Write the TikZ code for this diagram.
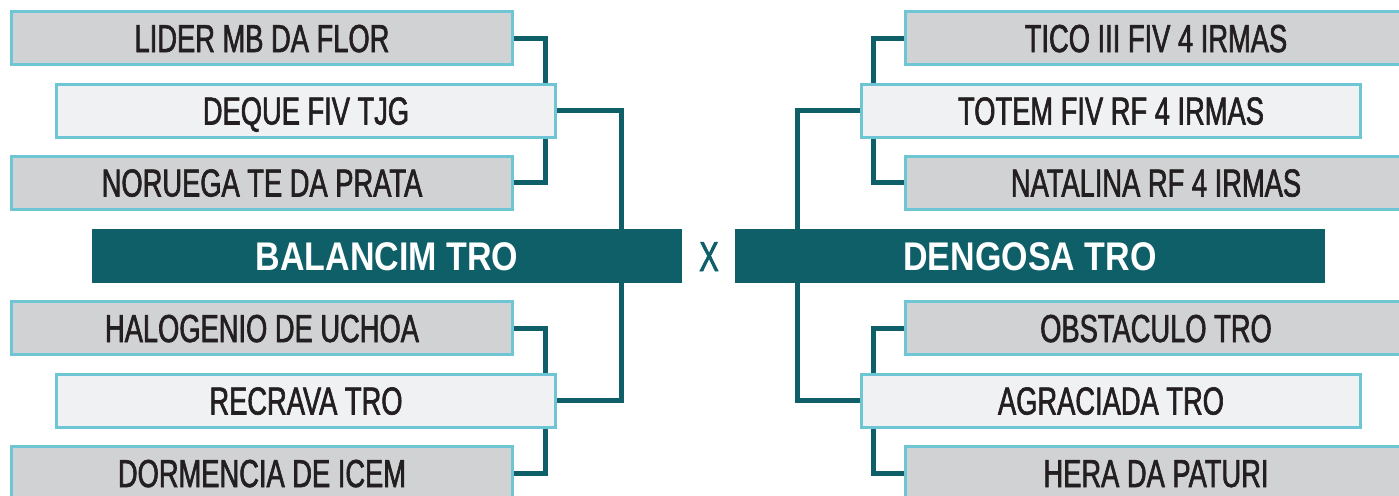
\documentclass[tikz,border=0pt]{standalone}
\usepackage{fontspec}
\usetikzlibrary{backgrounds}
\newfontfamily\boxfam{Liberation Sans}[FakeStretch=0.70, FakeBold=1.6]
\newfontfamily\barfam{Liberation Sans}[FakeStretch=0.85]
\definecolor{tealbar}{HTML}{0E5F68}
\definecolor{boxline}{HTML}{6EC6D4}
\definecolor{boxgray}{HTML}{D1D2D4}
\definecolor{boxlight}{HTML}{F0F1F3}
\definecolor{txt}{HTML}{231F20}
\tikzset{
  gbox/.style={draw=boxline, line width=1.5pt, fill=boxgray, minimum width=250.5pt, minimum height=26.5pt,
    inner sep=0pt, text=txt, font=\boxfam\fontsize{19.5}{20}\selectfont, text height=14pt, text depth=0pt},
  lbox/.style={gbox, fill=boxlight, minimum width=249.5pt},
  bar/.style={fill=tealbar, minimum width=295pt, minimum height=27pt, inner sep=0pt, text=white,
    font=\barfam\bfseries\fontsize{20}{21}\selectfont, text height=14.3pt, text depth=0pt},
  conn/.style={draw=tealbar, line width=2.5pt},
  vs/.style={text=tealbar, font=\boxfam\fontsize{21}{22}\selectfont, inner sep=0pt, text height=14pt, text depth=0pt}
}
\begin{document}
\begin{tikzpicture}[x=0.5pt,y=-0.5pt]
\path[use as bounding box, clip] (0,0) rectangle (1399,495);
% left side
\node[gbox] (lider) at (262,38) {LIDER MB DA FLOR};
\node[lbox] (deque) at (306,110.5) {DEQUE FIV TJG};
\node[gbox] (noruega) at (262,182.5) {NORUEGA TE DA PRATA};
\node[bar] (balancim) at (387,256) {BALANCIM TRO};
\node[gbox] (halogenio) at (262,328) {HALOGENIO DE UCHOA};
\node[lbox] (recrava) at (306,400.5) {RECRAVA TRO};
\node[gbox] (dormencia) at (262,473) {DORMENCIA DE ICEM};
% center
\node[vs] (x) at (709,257) {X};
% right side
\node[gbox] (tico) at (1156,38) {TICO III FIV 4 IRMAS};
\node[lbox] (totem) at (1111,110.5) {TOTEM FIV RF 4 IRMAS};
\node[gbox] (natalina) at (1156,182.5) {NATALINA RF 4 IRMAS};
\node[bar] (dengosa) at (1030,256) {DENGOSA TRO};
\node[gbox] (obstaculo) at (1156,328) {OBSTACULO TRO};
\node[lbox] (agraciada) at (1111,400.5) {AGRACIADA TRO};
\node[gbox] (hera) at (1156,473) {HERA DA PATURI};
% junction columns
\coordinate (jL) at (545,0);
\coordinate (jM) at (621,0);
\coordinate (jR) at (873,0);
\coordinate (jN) at (797,0);
\begin{scope}[on background layer]
\draw[conn] (lider.east) -| (jL |- deque.north);
\draw[conn] (deque.south -| jL) |- (noruega.east);
\draw[conn] (deque.east) -| (jM |- balancim.north);
\draw[conn] (balancim.south -| jM) |- (recrava.east);
\draw[conn] (halogenio.east) -| (jL |- recrava.north);
\draw[conn] (recrava.south -| jL) |- (dormencia.east);
\draw[conn] (tico.west) -| (jR |- totem.north);
\draw[conn] (totem.south -| jR) |- (natalina.west);
\draw[conn] (totem.west) -| (jN |- dengosa.north);
\draw[conn] (dengosa.south -| jN) |- (agraciada.west);
\draw[conn] (obstaculo.west) -| (jR |- agraciada.north);
\draw[conn] (agraciada.south -| jR) |- (hera.west);
\end{scope}
\end{tikzpicture}
\end{document}
